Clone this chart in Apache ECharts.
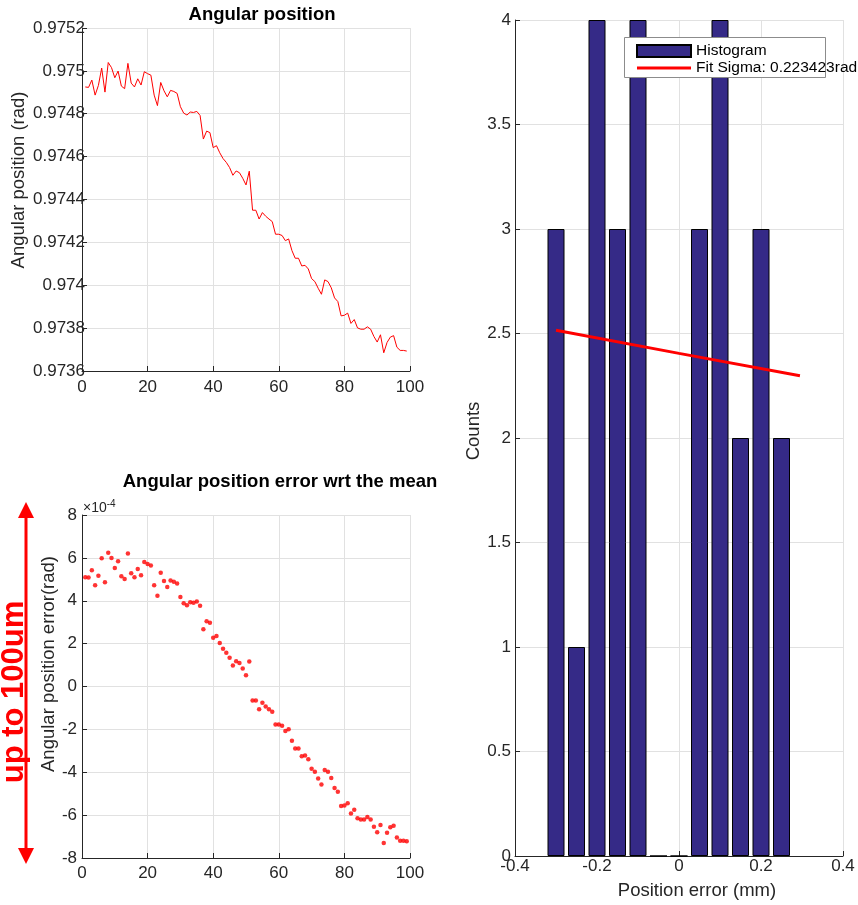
<!DOCTYPE html>
<html>
<head>
<meta charset="utf-8">
<script src="https://cdn.jsdelivr.net/npm/echarts@6/dist/echarts.min.js"></script>
<style>
  html, body { margin: 0; padding: 0; background: #fff; }
  #chart { width: 858px; height: 905px; }
</style>
</head>
<body>
<div id="chart"></div>
<script>
var chart = echarts.init(document.getElementById('chart'));

// error wrt the mean, in units of 1e-4 rad, samples 1..99
var errE4 = [5.10, 5.08, 5.42, 4.72, 5.17, 5.98, 4.86, 6.24, 6.00, 5.53,
             5.84, 5.14, 5.02, 6.20, 5.28, 5.10, 5.48, 5.19, 5.81, 5.72,
             5.65, 4.72, 4.23, 5.31, 4.92, 4.64, 4.94, 4.89, 4.80, 4.18,
             3.88, 3.79, 3.93, 3.91, 3.96, 3.77, 2.67, 3.04, 2.97, 2.27,
             2.36, 2.03, 1.76, 1.58, 1.34, 0.98, 1.18, 1.10, 0.84, 0.53,
             1.17, -0.65, -0.65, -1.06, -0.76, -0.93, -1.06, -1.18, -1.77, -1.77,
             -1.83, -2.07, -1.99, -2.53, -2.89, -2.89, -3.25, -3.22, -3.39, -3.84,
             -3.98, -4.29, -4.57, -3.90, -3.98, -4.27, -4.74, -4.91, -5.58, -5.55,
             -5.45, -5.93, -5.75, -6.14, -6.20, -6.20, -6.09, -6.20, -6.54, -6.80,
             -6.46, -7.30, -6.82, -6.57, -6.50, -7.04, -7.19, -7.19, -7.22];
var meanAngle = 0.974415;

// histogram of position error (mm)
var binCenters = [-0.3, -0.25, -0.2, -0.15, -0.1, -0.05, 0, 0.05, 0.1, 0.15, 0.2, 0.25];
var binCounts = [3, 1, 4, 3, 4, 0, 0, 3, 4, 2, 3, 2];
var fitX = [-0.3, 0, 0.295];
var fitY = [2.516, 2.405, 2.298];

var angleData = [], errData = [];
for (var i = 0; i < errE4.length; i++) {
    angleData.push([i + 1, meanAngle + errE4[i] * 1e-4]);
    errData.push([i + 1, errE4[i]]);
}
var histData = binCenters.map(function (x, i) { return [x, binCounts[i]]; });
var fitData = fitX.map(function (x, i) { return [x, fitY[i]]; });

var FONT = 'Liberation Sans, Arial, Helvetica, sans-serif';
var TXT = '#262626';
var GRIDC = '#e1e1e1';

function axis(idx, min, max, step, margin, extra) {
    var a = {
        type: 'value', gridIndex: idx, min: min, max: max, interval: step,
        axisLine: { show: true, onZero: false, lineStyle: { color: TXT, width: 1 } },
        axisTick: { show: true, inside: true, length: 5, lineStyle: { color: TXT } },
        axisLabel: { color: TXT, fontSize: 17, fontFamily: FONT, margin: margin },
        splitLine: { show: true, lineStyle: { color: GRIDC } }
    };
    return Object.assign(a, extra || {});
}

var option = {
    backgroundColor: '#ffffff',
    animation: false,
    grid: [
        { left: 82, right: 448, top: 28, bottom: 534 },
        { left: 82, right: 448, top: 515, bottom: 47 },
        { left: 515, right: 15, top: 20, bottom: 47 }
    ],
    xAxis: [
        axis(0, 0, 100, 20, 8),
        axis(1, 0, 100, 20, 7),
        axis(2, -0.4, 0.4, 0.2, 2, {
            name: 'Position error (mm)', nameLocation: 'middle', nameGap: 25,
            nameTextStyle: { color: TXT, fontSize: 18.5, fontFamily: FONT, padding: [0, 0, 0, 36] }
        })
    ],
    yAxis: [
        axis(0, 0.9736, 0.9752, 0.0002, -3, {
            name: 'Angular position (rad)', nameLocation: 'middle', nameGap: 54,
            nameTextStyle: { color: TXT, fontSize: 18.5, fontFamily: FONT, padding: [0, 0, 0, 39] }
        }),
        axis(1, -8, 8, 2, 5, {
            name: 'Angular position error(rad)', nameLocation: 'middle', nameGap: 24,
            nameTextStyle: { color: TXT, fontSize: 18.5, fontFamily: FONT, padding: [0, 0, 0, 45] }
        }),
        axis(2, 0, 4, 0.5, 4, {
            name: 'Counts', nameLocation: 'middle', nameGap: 32,
            nameTextStyle: { color: TXT, fontSize: 18.5, fontFamily: FONT, padding: [0, 0, 0, 14] }
        })
    ],
    legend: {
        left: 624, top: 37, orient: 'vertical',
        padding: [6, 0, 6, 12], itemGap: 1, itemWidth: 54, itemHeight: 12,
        symbolKeepAspect: true,
        textStyle: { color: '#000', fontSize: 15.5, fontFamily: FONT, lineHeight: 16 },
        data: [
            { name: 'Histogram', icon: 'rect' },
            { name: 'Fit Sigma: 0.223423rad', icon: 'path://M0,0 H54 V3 H0 Z' }
        ],
        z: 10
    },
    graphic: [
        { type: 'rect', z: 9, shape: { x: 624.5, y: 37.5, width: 201, height: 40 },
          style: { fill: '#fff', stroke: '#8c8c8c', lineWidth: 1 } },
        { type: 'text', x: 262, y: 15,
          style: { text: 'Angular position', font: 'bold 18.5px ' + FONT, fill: '#000', align: 'center', verticalAlign: 'middle' } },
        { type: 'text', x: 280, y: 482,
          style: { text: 'Angular position error wrt the mean', font: 'bold 18.5px ' + FONT, fill: '#000', align: 'center', verticalAlign: 'middle' } },
        { type: 'text', x: 83, y: 508,
          style: { text: '×10{s|-4}', font: '14px ' + FONT, fill: TXT, verticalAlign: 'middle',
                   rich: { s: { fontSize: 10, fontFamily: FONT, fill: TXT, padding: [0, 0, 8, 0] } } } },
        // red double arrow annotation
        { type: 'line', shape: { x1: 26, y1: 515, x2: 26, y2: 851 },
          style: { stroke: '#ff0000', lineWidth: 3 } },
        { type: 'polygon', shape: { points: [[26, 502], [18, 518], [34, 518]] },
          style: { fill: '#ff0000' } },
        { type: 'polygon', shape: { points: [[26, 864], [18, 848], [34, 848]] },
          style: { fill: '#ff0000' } },
        { type: 'text', x: 14, y: 692, rotation: Math.PI / 2,
          style: { text: 'up to 100um', font: 'bold 31px ' + FONT, fill: '#ff0000', align: 'center', verticalAlign: 'middle' } }
    ],
    series: [
        {
            name: 'Angular position', type: 'line', xAxisIndex: 0, yAxisIndex: 0,
            data: angleData, showSymbol: false, symbol: 'none',
            lineStyle: { color: '#ff0000', width: 1 }
        },
        {
            name: 'Angular position error', type: 'scatter', xAxisIndex: 1, yAxisIndex: 1,
            data: errData, symbolSize: 4.5,
            itemStyle: { color: '#ff0000' }
        },
        {
            name: 'Histogram', type: 'bar', xAxisIndex: 2, yAxisIndex: 2,
            data: histData, barWidth: 17,
            itemStyle: { color: '#352a87', borderColor: '#000', borderWidth: 1 }
        },
        {
            name: 'Fit Sigma: 0.223423rad', type: 'line', xAxisIndex: 2, yAxisIndex: 2,
            data: fitData, symbol: 'none', showSymbol: false,
            lineStyle: { color: '#ff0000', width: 3 }, itemStyle: { color: '#ff0000', borderWidth: 0 }
        }
    ]
};

chart.setOption(option);
</script>
</body>
</html>
